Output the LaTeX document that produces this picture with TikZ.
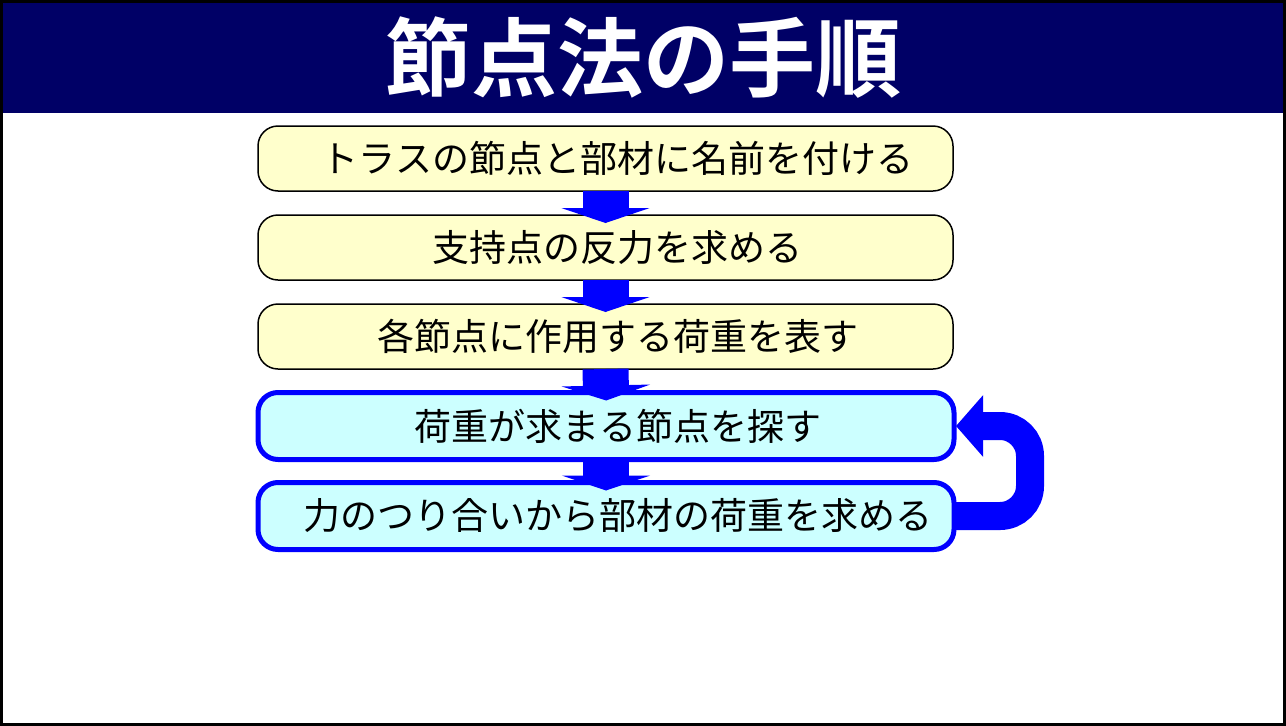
\documentclass[tikz,border=0pt]{standalone}
\usepackage{fontspec}
\setmainfont{Noto Sans CJK JP}
\newfontfamily\titlefont{Noto Sans CJK JP Bold}
\usepackage{tikz}
\usetikzlibrary{arrows.meta,positioning}

\definecolor{titlenavy}{RGB}{0,0,102}
\definecolor{boxyellow}{RGB}{255,255,204}
\definecolor{boxcyan}{RGB}{204,255,255}
\definecolor{flowblue}{RGB}{0,0,255}

\newcommand{\boxtext}[1]{\hspace*{24pt}#1}

\begin{document}
\begin{tikzpicture}[
  x=1pt, y=-1pt,
  every node/.style={inner sep=0pt, outer sep=0pt},
  stepbox/.style={rectangle, rounded corners=20pt, draw, line width=1.5pt,
    fill=boxyellow, minimum width=695pt, minimum height=65pt,
    font=\fontsize{37pt}{41pt}\selectfont},
  loopbox/.style={stepbox, draw=flowblue, line width=5pt, fill=boxcyan,
    minimum width=696pt, minimum height=67pt},
  downarrow/.style={draw=flowblue, line width=46pt,
    -{Triangle[length=15pt, width=88pt]}, shorten >=-8pt}
]
\useasboundingbox (0,0) rectangle (1286,726);
\fill[titlenavy] (3,3) rectangle (1283,113);
\draw[line width=3pt] (1.5,1.5) rectangle (1284.5,724.5);

\node[text=white, font=\titlefont\fontsize{86pt}{90pt}\selectfont] (title) at (643,58) {節点法の手順};

\node[stepbox] (s1) at (605.5,158.5) {\boxtext{トラスの節点と部材に名前を付ける}};
\node[stepbox] (s2) at (605.5,247.5) {\boxtext{支持点の反力を求める}};
\node[stepbox] (s3) at (605.5,336.5) {\boxtext{各節点に作用する荷重を表す}};
\node[loopbox] (s4) at (606,426) {\boxtext{荷重が求まる節点を探す}};
\node[loopbox] (s5) at (606,516) {\boxtext{力のつり合いから部材の荷重を求める}};

\draw[downarrow] (s1.south) -- (s2.north);
\draw[downarrow] (s2.south) -- (s3.north);
\draw[downarrow] (s3.south) -- (s4.north);
\draw[downarrow] (s4.south) -- (s5.north);

% back to the search step
\draw[flowblue, line width=28pt, rounded corners=30pt,
  -{Triangle[length=27pt, width=60pt]}]
  (s5.east) -- ++(76,0) |- ([xshift=2pt]s4.east);

\end{tikzpicture}
\end{document}
